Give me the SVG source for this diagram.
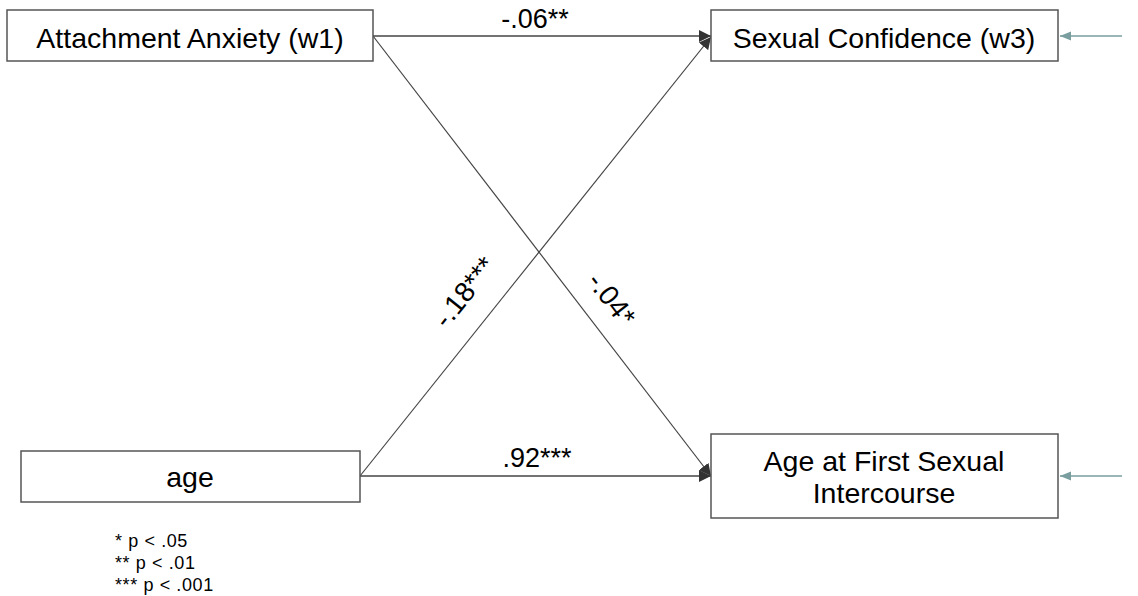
<svg xmlns="http://www.w3.org/2000/svg" width="1138" height="596" viewBox="0 0 1138 596">
<style>
.box{fill:#fff;stroke:#555;stroke-width:1.5}
.lbl{font-family:"Liberation Sans",Arial,sans-serif;font-size:28.5px;fill:#000;text-anchor:middle}
.el{font-family:"Liberation Sans",Arial,sans-serif;font-size:27px;fill:#000;text-anchor:middle}
.rl{font-family:"Liberation Sans",Arial,sans-serif;font-size:28px;fill:#000;text-anchor:middle}
.fn{font-family:"Liberation Sans",Arial,sans-serif;font-size:18px;letter-spacing:0.6px;fill:#000}
.path{stroke:#444;fill:none}
.err{stroke:#7a9e9f;stroke-width:1.5;fill:none}
</style>
<defs>
<marker id="ah" viewBox="0 0 12 12" refX="12" refY="6" markerWidth="12" markerHeight="12" markerUnits="userSpaceOnUse" orient="auto">
<path d="M0,0 L12,6 L0,12 Z" fill="#333"/>
</marker>
<marker id="ae" viewBox="0 0 12 12" refX="12" refY="6" markerWidth="11" markerHeight="11" markerUnits="userSpaceOnUse" orient="auto">
<path d="M0,1 L12,6 L0,11 Z" fill="#7a9e9f"/>
</marker>
</defs>
<g id="connectors">
<line class="path" stroke-width="1.5" x1="373" y1="36" x2="711" y2="36" marker-end="url(#ah)"/>
<line class="path" stroke-width="1.2" x1="373" y1="36" x2="711" y2="476" marker-end="url(#ah)"/>
<line class="path" stroke-width="1.2" x1="360" y1="476" x2="711" y2="37" marker-end="url(#ah)"/>
<line class="path" stroke-width="1.5" x1="360" y1="476" x2="711" y2="476" marker-end="url(#ah)"/>
<line class="err" x1="1122" y1="36" x2="1060" y2="36" marker-end="url(#ae)"/>
<line class="err" x1="1122" y1="476" x2="1060" y2="476" marker-end="url(#ae)"/>
<text class="el" x="535" y="28">-.06**</text>
<text class="el" x="537" y="467">.92***</text>
<text class="rl" transform="translate(472,298) rotate(-51.4)">-.18***</text>
<text class="rl" transform="translate(604,305) rotate(52.5)">-.04*</text>
</g>
<g id="node-anxiety">
<rect class="box" x="7" y="10" width="366" height="51"/>
<text class="lbl" x="190" y="48">Attachment Anxiety (w1)</text>
</g>
<g id="node-confidence">
<rect class="box" x="711" y="10" width="347" height="51"/>
<text class="lbl" x="884" y="48">Sexual Confidence (w3)</text>
</g>
<g id="node-age">
<rect class="box" x="21" y="451" width="339" height="51"/>
<text class="lbl" x="190" y="487">age</text>
</g>
<g id="node-afsi">
<rect class="box" x="711" y="434" width="347" height="84"/>
<text class="lbl" x="884" y="471">Age at First Sexual</text>
<text class="lbl" x="884" y="503">Intercourse</text>
</g>
<g id="footnote">
<text class="fn" x="115" y="547">* p &lt; .05</text>
<text class="fn" x="115" y="569">** p &lt; .01</text>
<text class="fn" x="115" y="591">*** p &lt; .001</text>
</g>
</svg>
